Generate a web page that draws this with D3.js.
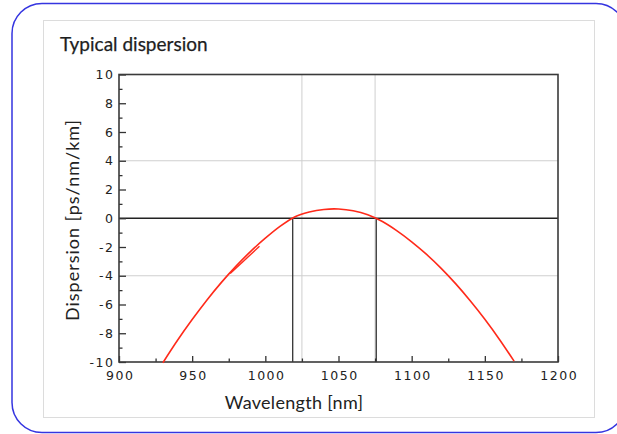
<!DOCTYPE html>
<html>
<head>
<meta charset="utf-8">
<script src="https://cdn.jsdelivr.net/npm/d3@7"></script>
<style>
  html, body { margin: 0; padding: 0; background: #fff; }
  svg { display: block; }
</style>
</head>
<body>
<svg id="chart" width="617" height="434"></svg>
<script>
// Dispersion curve, wavelength in nm vs dispersion in ps/nm/km
const wavelengths = [930, 940, 950, 960, 970, 980, 990, 1000, 1010, 1020, 1030, 1040, 1047, 1050, 1060, 1070, 1080, 1090, 1100, 1110, 1120, 1130, 1140, 1150, 1160, 1170];
const dispersion  = [-10.05, -8.49, -7.05, -5.70, -4.46, -3.33, -2.30, -1.39, -0.57, 0.09, 0.43, 0.61, 0.65, 0.64, 0.52, 0.24, -0.23, -0.88, -1.64, -2.50, -3.47, -4.55, -5.74, -7.03, -8.43, -9.94];

// short stray stroke drawn over the curve
const strayWavelengths = [976, 996];
const strayDispersion  = [-3.85, -1.95];

// zero-dispersion wavelengths (black drop lines) and reference wavelengths (grey)
const zeroCrossings = [1018.7, 1075.8];
const refWavelengths = [1025, 1075];
const refDispersion = [-4, 4];

const xTicks = [900, 950, 1000, 1050, 1100, 1150, 1200];
const yTicks = [10, 8, 6, 4, 2, 0, -2, -4, -6, -8, -10];

const svg = d3.select("#chart");

// outer rounded frame
svg.append("rect")
  .attr("x", 12).attr("y", 3.5).attr("width", 614).attr("height", 429)
  .attr("rx", 30).attr("ry", 30)
  .attr("fill", "#fff").attr("stroke", "#3535e0").attr("stroke-width", 1.5);

// inner panel
svg.append("rect")
  .attr("x", 43.5).attr("y", 20.5).attr("width", 551).attr("height", 397)
  .attr("fill", "#fff").attr("stroke", "#dcdcdc").attr("stroke-width", 1);

svg.append("text")
  .attr("x", 60).attr("y", 51)
  .attr("font-family", "Lato, 'Open Sans', sans-serif")
  .attr("font-size", 19).attr("fill", "#1e1e1e")
  .attr("stroke", "#1e1e1e").attr("stroke-width", 0.25)
  .text("Typical dispersion");

const m = { left: 119, right: 558, top: 74.5, bottom: 362 };
const x = d3.scaleLinear().domain([900, 1200]).range([m.left, m.right]);
const y = d3.scaleLinear().domain([-10, 10]).range([m.bottom, m.top]);

const g = svg.append("g");

// grid lines
g.selectAll("line.hgrid").data(refDispersion).join("line")
  .attr("class", "hgrid")
  .attr("x1", m.left).attr("x2", m.right)
  .attr("y1", d => y(d)).attr("y2", d => y(d))
  .attr("stroke", "#cfcfcf").attr("stroke-width", 1);

g.selectAll("line.vgrid").data(refWavelengths).join("line")
  .attr("class", "vgrid")
  .attr("x1", d => x(d)).attr("x2", d => x(d))
  .attr("y1", m.top).attr("y2", m.bottom)
  .attr("stroke", "#cfcfcf").attr("stroke-width", 1);

// zero line
g.append("line")
  .attr("x1", m.left).attr("x2", m.right)
  .attr("y1", y(0)).attr("y2", y(0))
  .attr("stroke", "#222").attr("stroke-width", 1.5);

// drop lines at zero-dispersion wavelengths
g.selectAll("line.drop").data(zeroCrossings).join("line")
  .attr("class", "drop")
  .attr("x1", d => x(d)).attr("x2", d => x(d))
  .attr("y1", y(0)).attr("y2", m.bottom)
  .attr("stroke", "#333").attr("stroke-width", 1.3);

// axes with inward ticks
const tickFont = "'DejaVu Sans', sans-serif";

const xAxis = d3.axisBottom(x).tickValues(d3.range(900, 1201, 25))
  .tickSize(-6).tickPadding(9)
  .tickFormat(d => xTicks.includes(d) ? d : "");
const xg = g.append("g").attr("transform", `translate(0,${m.bottom})`).call(xAxis);
xg.selectAll(".tick line").attr("y2", d => (d % 50 === 0 ? -6 : -3.5));

const yAxis = d3.axisLeft(y).tickValues(d3.range(-10, 10.01, 1))
  .tickSize(-6).tickPadding(6)
  .tickFormat(d => yTicks.includes(d) ? d : "");
const yg = g.append("g").attr("transform", `translate(${m.left},0)`).call(yAxis);
yg.selectAll(".tick line").attr("x2", d => (d % 2 === 0 ? 7 : 3.5));

[xg, yg].forEach(a => {
  a.select(".domain").remove();
  a.selectAll(".tick line").attr("stroke", "#333").attr("stroke-width", 1.3);
  a.selectAll(".tick text")
    .attr("font-family", tickFont).attr("font-size", 12.5)
    .attr("letter-spacing", "1.5px").attr("fill", "#222");
});
yg.selectAll(".tick text").attr("dx", "1.5px");
xg.selectAll(".tick text").attr("dx", "0.75px");

// plot frame
g.append("rect")
  .attr("x", m.left).attr("y", m.top)
  .attr("width", m.right - m.left).attr("height", m.bottom - m.top)
  .attr("fill", "none").attr("stroke", "#3a3a3a").attr("stroke-width", 1.6);

// dispersion curve
const pts = wavelengths.map((w, i) => [w, dispersion[i]]);
const line = d3.line().x(d => x(d[0])).y(d => y(d[1])).curve(d3.curveMonotoneX);
g.append("path").datum(pts)
  .attr("d", line)
  .attr("fill", "none").attr("stroke", "#ff2a1a").attr("stroke-width", 1.6);

const stray = strayWavelengths.map((w, i) => [w, strayDispersion[i]]);
g.append("path").datum(stray)
  .attr("d", d3.line().x(d => x(d[0])).y(d => y(d[1])))
  .attr("fill", "none").attr("stroke", "#ff2a1a").attr("stroke-width", 1.4);

// axis titles
svg.append("text")
  .attr("x", 294).attr("y", 409)
  .attr("text-anchor", "middle")
  .attr("font-family", "Lato, 'Open Sans', sans-serif")
  .attr("font-size", 18).attr("letter-spacing", "0.3px").attr("fill", "#222")
  .text("Wavelength [nm]");

svg.append("text")
  .attr("transform", "translate(79,220) rotate(-90)")
  .attr("text-anchor", "middle")
  .attr("font-family", "Lato, 'Open Sans', sans-serif")
  .attr("font-size", 18).attr("letter-spacing", "1px").attr("fill", "#222")
  .text("Dispersion [ps/nm/km]");
</script>
</body>
</html>
